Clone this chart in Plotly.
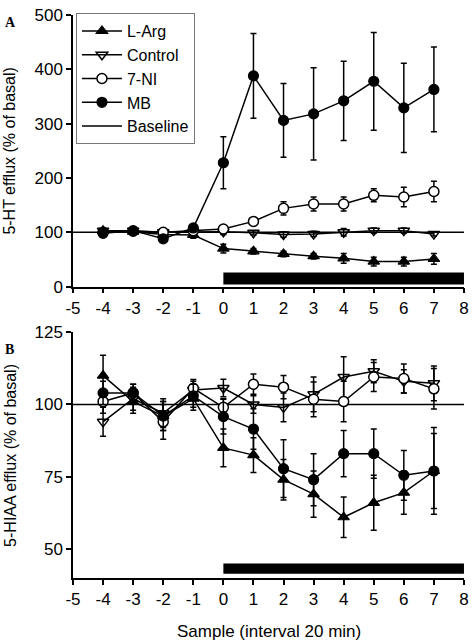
import plotly.graph_objects as go
from plotly.subplots import make_subplots

# ---------------- data ----------------
samples = [-4, -3, -2, -1, 0, 1, 2, 3, 4, 5, 6, 7]
x_ticks = [-5, -4, -3, -2, -1, 0, 1, 2, 3, 4, 5, 6, 7, 8]
x_tick_labels = ["-5", "-4", "-3", "-2", "-1", "0", "1", "2", "3", "4", "5", "6", "7", "8"]
baseline_value = 100
treatment_span = [0, 8]
bar_top_panel = [4, 26]
bar_bottom_panel = [41.5, 45]

# Panel A: 5-HT efflux (% of basal)
ht_larg = [103, 101, 96, 95, 70, 65, 60, 56, 52, 46, 46, 51]
ht_larg_err = [5, 4, 5, 6, 8, 5, 5, 5, 9, 8, 8, 10]
ht_control = [103, 103, 100, 100, 101, 99, 96, 97, 100, 103, 103, 97]
ht_control_err = [4, 4, 5, 5, 5, 4, 5, 5, 7, 5, 5, 4]
ht_7ni = [100, 102, 100, 103, 106, 120, 144, 152, 152, 168, 165, 175]
ht_7ni_err = [4, 4, 5, 5, 5, 5, 12, 13, 13, 12, 18, 19]
ht_mb = [98, 103, 88, 108, 228, 388, 306, 318, 342, 378, 329, 363]
ht_mb_err = [5, 5, 6, 7, 48, 78, 68, 85, 73, 90, 82, 78]

# Panel B: 5-HIAA efflux (% of basal)
hiaa_larg = [110, 101, 96, 102, 85, 82.5, 74, 69, 61, 66, 69.5, 77]
hiaa_larg_err = [7, 4, 5, 4, 6.5, 6, 7, 8, 7, 9.5, 7.5, 13]
hiaa_control = [94, 102, 97, 105, 105.7, 100, 99, 103.5, 109.5, 111.5, 108, 107.3]
hiaa_control_err = [5, 4, 5, 3, 3, 3, 5, 6, 7, 4, 4, 6]
hiaa_7ni = [101, 104, 94, 105.6, 99, 107, 106, 101.8, 101, 109.5, 109, 105.4]
hiaa_7ni_err = [4, 3, 6, 3, 3, 3.5, 4, 6, 7, 5, 5, 7]
hiaa_mb = [104, 104, 96, 103, 95.8, 91.5, 77.8, 74, 83, 83, 75.5, 77]
hiaa_mb_err = [4, 3, 5, 4, 6, 7, 10, 9, 8, 8.5, 8.6, 15]

series_names = ["L-Arg", "Control", "7-NI", "MB"]
top_vals = [(ht_larg, ht_larg_err), (ht_control, ht_control_err), (ht_7ni, ht_7ni_err), (ht_mb, ht_mb_err)]
bot_vals = [(hiaa_larg, hiaa_larg_err), (hiaa_control, hiaa_control_err), (hiaa_7ni, hiaa_7ni_err), (hiaa_mb, hiaa_mb_err)]

# ---------------- styles ----------------
W, H = 475, 640
ML, MR, MT, MB_ = 73, 6, 10, 62
plot_h = H - MT - MB_
plot_w = W - ML - MR
FONT = "Liberation Sans, Arial, sans-serif"

def py(px):  # pixel row -> paper y
    return (H - MB_ - px) / plot_h

def pxx(px):  # pixel col -> paper x
    return (px - ML) / plot_w

marker_styles = [
    dict(symbol="triangle-up", size=10, color="black", line=dict(color="black", width=1.2)),
    dict(symbol="triangle-down-open", size=10, color="black", line=dict(color="black", width=1.5)),
    dict(symbol="circle", size=10, color="white", line=dict(color="black", width=1.5)),
    dict(symbol="circle", size=10, color="black", line=dict(color="black", width=1.2)),
]

fig = make_subplots(rows=2, cols=1, vertical_spacing=0.0)

# baselines
for r in (1, 2):
    fig.add_trace(go.Scatter(
        x=[x_ticks[0], x_ticks[-1]], y=[baseline_value, baseline_value],
        mode="lines", line=dict(color="black", width=1.5), name="Baseline",
        showlegend=(r == 1), legendrank=5), row=r, col=1)

for i, name in enumerate(series_names):
    for r, vals in ((1, top_vals[i]), (2, bot_vals[i])):
        y, e = vals
        fig.add_trace(go.Scatter(
            x=samples, y=y, mode="lines+markers", name=name,
            line=dict(color="black", width=1.5),
            marker=marker_styles[i],
            error_y=dict(type="data", array=e, visible=True, color="black", thickness=1.5, width=3),
            showlegend=(r == 1), legendrank=i + 1), row=r, col=1)

# treatment bars
fig.add_shape(type="rect", x0=treatment_span[0], x1=treatment_span[1], y0=bar_top_panel[0], y1=bar_top_panel[1],
              fillcolor="black", line=dict(width=0), xref="x", yref="y")
fig.add_shape(type="rect", x0=treatment_span[0], x1=treatment_span[1], y0=bar_bottom_panel[0], y1=bar_bottom_panel[1],
              fillcolor="black", line=dict(width=0), xref="x2", yref="y2")

axis_common = dict(showline=True, linecolor="black", linewidth=1.5, ticks="outside", ticklen=5,
                   tickwidth=1.5, tickcolor="black", showgrid=False, zeroline=False,
                   tickfont=dict(family=FONT, size=17, color="black"))

fig.update_xaxes(range=[x_ticks[0], x_ticks[-1] + 0.001], tickvals=x_ticks, ticktext=x_tick_labels,
                 domain=[0, 1], **axis_common)
fig.update_yaxes(**axis_common)
fig.update_yaxes(range=[0, 500], tickvals=[0, 100, 200, 300, 400, 500], domain=[py(284), 1.0], row=1, col=1)
fig.update_yaxes(range=[40, 125], tickvals=[50, 75, 100, 125], domain=[0, py(330)], row=2, col=1)

ann_font = dict(family=FONT, size=16, color="black")
fig.update_layout(
    width=W, height=H, margin=dict(l=ML, r=MR, t=MT, b=MB_),
    paper_bgcolor="white", plot_bgcolor="white",
    font=dict(family=FONT, color="black"),
    legend=dict(x=pxx(76), y=py(8), xanchor="left", yanchor="top",
                bordercolor="#777777", borderwidth=1, bgcolor="white",
                font=ann_font, tracegroupgap=0, itemwidth=40),
    annotations=[
        dict(text="5-HT efflux (% of basal)", x=pxx(9), y=py(147), xref="paper", yref="paper",
             textangle=-90, showarrow=False, font=ann_font, xanchor="center", yanchor="middle"),
        dict(text="5-HIAA efflux (% of basal)", x=pxx(9), y=py(454), xref="paper", yref="paper",
             textangle=-90, showarrow=False, font=ann_font, xanchor="center", yanchor="middle"),
        dict(text="Sample (interval 20 min)", x=pxx(271), y=py(620), xref="paper", yref="paper",
             showarrow=False, font=dict(family=FONT, size=17, color="black"),
             xanchor="center", yanchor="top"),
        dict(text="<b>A</b>", x=pxx(2), y=py(8), xref="paper", yref="paper", showarrow=False,
             font=dict(family="Liberation Serif, serif", size=14, color="black"),
             xanchor="left", yanchor="top"),
        dict(text="<b>B</b>", x=pxx(2), y=py(338), xref="paper", yref="paper", showarrow=False,
             font=dict(family="Liberation Serif, serif", size=14, color="black"),
             xanchor="left", yanchor="top"),
    ],
)

fig.write_html("out.html", config={"displayModeBar": False},
               post_script="document.body.style.margin='0';")
